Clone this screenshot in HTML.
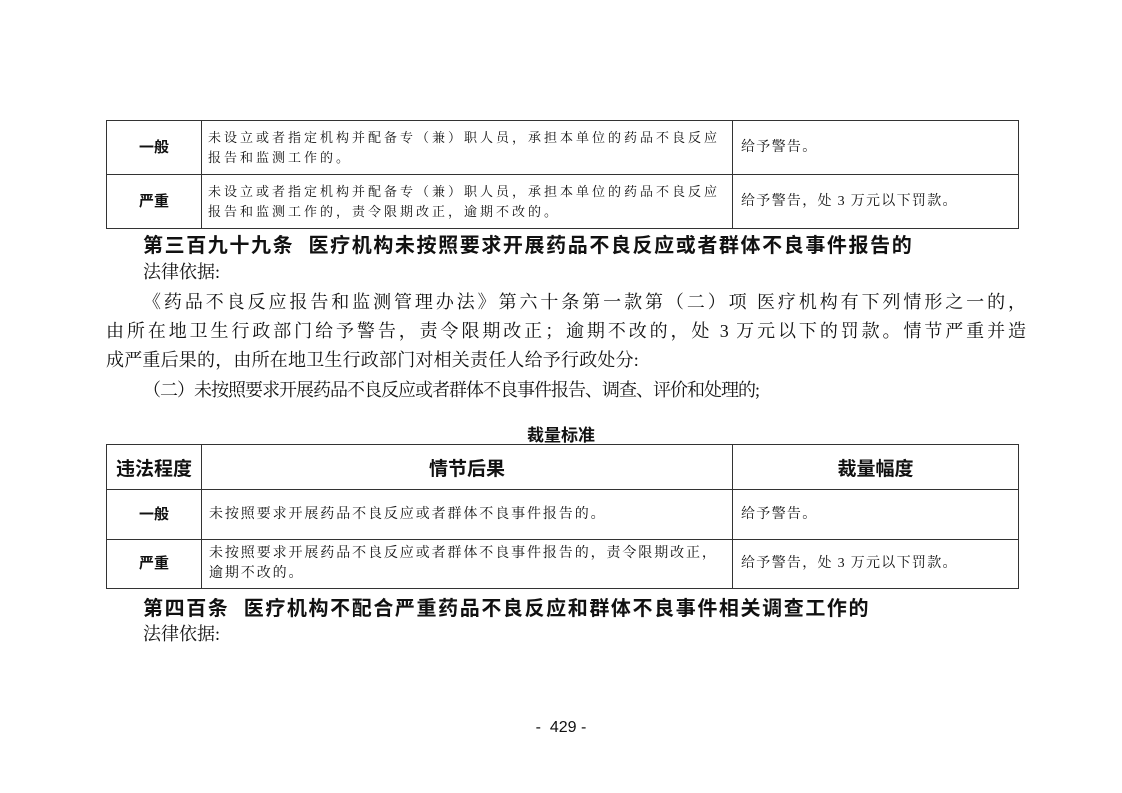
<!DOCTYPE html>
<html><head><meta charset="utf-8"><style>
body{margin:0;width:1122px;height:793px;background:#fff;position:relative;overflow:hidden;font-family:"Liberation Serif","Noto Serif CJK SC",serif;color:#111}
.a{position:absolute;white-space:nowrap}
.j{text-align:justify;text-align-last:justify}
table{position:absolute;border-collapse:collapse;left:106px;width:913px;table-layout:fixed}
td{border:1px solid #333;font-size:13px;line-height:20px;padding:0 6px;vertical-align:middle;letter-spacing:3px}
td.c{text-align:center;font-family:"Liberation Sans","Noto Sans CJK SC",sans-serif;font-weight:bold;font-size:15px;padding:0;letter-spacing:0}
td.r{font-size:14px;letter-spacing:1.3px;padding-left:8px}
.t2 td{font-size:14px;letter-spacing:1.9px;padding:0 5px 0 7px}
.t2 td.c{font-size:15px;letter-spacing:0;padding:0}
.t2 td.r{letter-spacing:1.3px;padding-left:8px}
th{border:1px solid #333;font-family:"Liberation Sans","Noto Sans CJK SC",sans-serif;font-weight:bold;font-size:19px;height:42px}
.p{font-size:18px;line-height:29.5px}
.h{font-size:20px;letter-spacing:1.6px;font-family:"Liberation Sans","Noto Sans CJK SC",sans-serif;font-weight:bold}
</style></head><body>
<table style="top:120px">
<colgroup><col style="width:95px"><col style="width:531px"><col></colgroup>
<tr style="height:54px"><td class="c">一般</td><td>未设立或者指定机构并配备专（兼）职人员，承担本单位的药品不良反应报告和监测工作的。</td><td class="r">给予警告。</td></tr>
<tr style="height:54px"><td class="c">严重</td><td>未设立或者指定机构并配备专（兼）职人员，承担本单位的药品不良反应报告和监测工作的，责令限期改正，逾期不改的。</td><td class="r">给予警告，处 3 万元以下罚款。</td></tr>
</table>
<div class="a h" style="left:143px;top:229px">第三百九十九条&nbsp; 医疗机构未按照要求开展药品不良反应或者群体不良事件报告的</div>
<div class="a p" style="left:143px;top:258px">法律依据:</div>
<div class="a p j" style="left:143px;top:288px;width:883px">《药品不良反应报告和监测管理办法》第六十条第一款第（二）项 医疗机构有下列情形之一的，</div>
<div class="a p j" style="left:106px;top:317px;width:920px">由所在地卫生行政部门给予警告，责令限期改正；逾期不改的，处 3 万元以下的罚款。情节严重并造</div>
<div class="a p" style="left:106px;top:346px;letter-spacing:0.2px">成严重后果的，由所在地卫生行政部门对相关责任人给予行政处分:</div>
<div class="a p" style="left:143px;top:376px;letter-spacing:-1px">（二）未按照要求开展药品不良反应或者群体不良事件报告、调查、评价和处理的;</div>
<div class="a h" style="left:0;width:1122px;text-align:center;top:421px;font-size:17px;letter-spacing:0">裁量标准</div>
<table class="t2" style="top:444px">
<colgroup><col style="width:95px"><col style="width:531px"><col></colgroup>
<tr><th>违法程度</th><th>情节后果</th><th>裁量幅度</th></tr>
<tr style="height:50px"><td class="c">一般</td><td>未按照要求开展药品不良反应或者群体不良事件报告的。</td><td class="r">给予警告。</td></tr>
<tr style="height:49px"><td class="c">严重</td><td>未按照要求开展药品不良反应或者群体不良事件报告的，责令限期改正，逾期不改的。</td><td class="r">给予警告，处 3 万元以下罚款。</td></tr>
</table>
<div class="a h" style="left:143px;top:592px">第四百条&nbsp; 医疗机构不配合严重药品不良反应和群体不良事件相关调查工作的</div>
<div class="a p" style="left:143px;top:620px">法律依据:</div>
<div class="a" style="left:0;width:1122px;text-align:center;top:719px;font-size:16px;font-family:'Liberation Sans',sans-serif">-&nbsp; 429 -</div>
</body></html>
